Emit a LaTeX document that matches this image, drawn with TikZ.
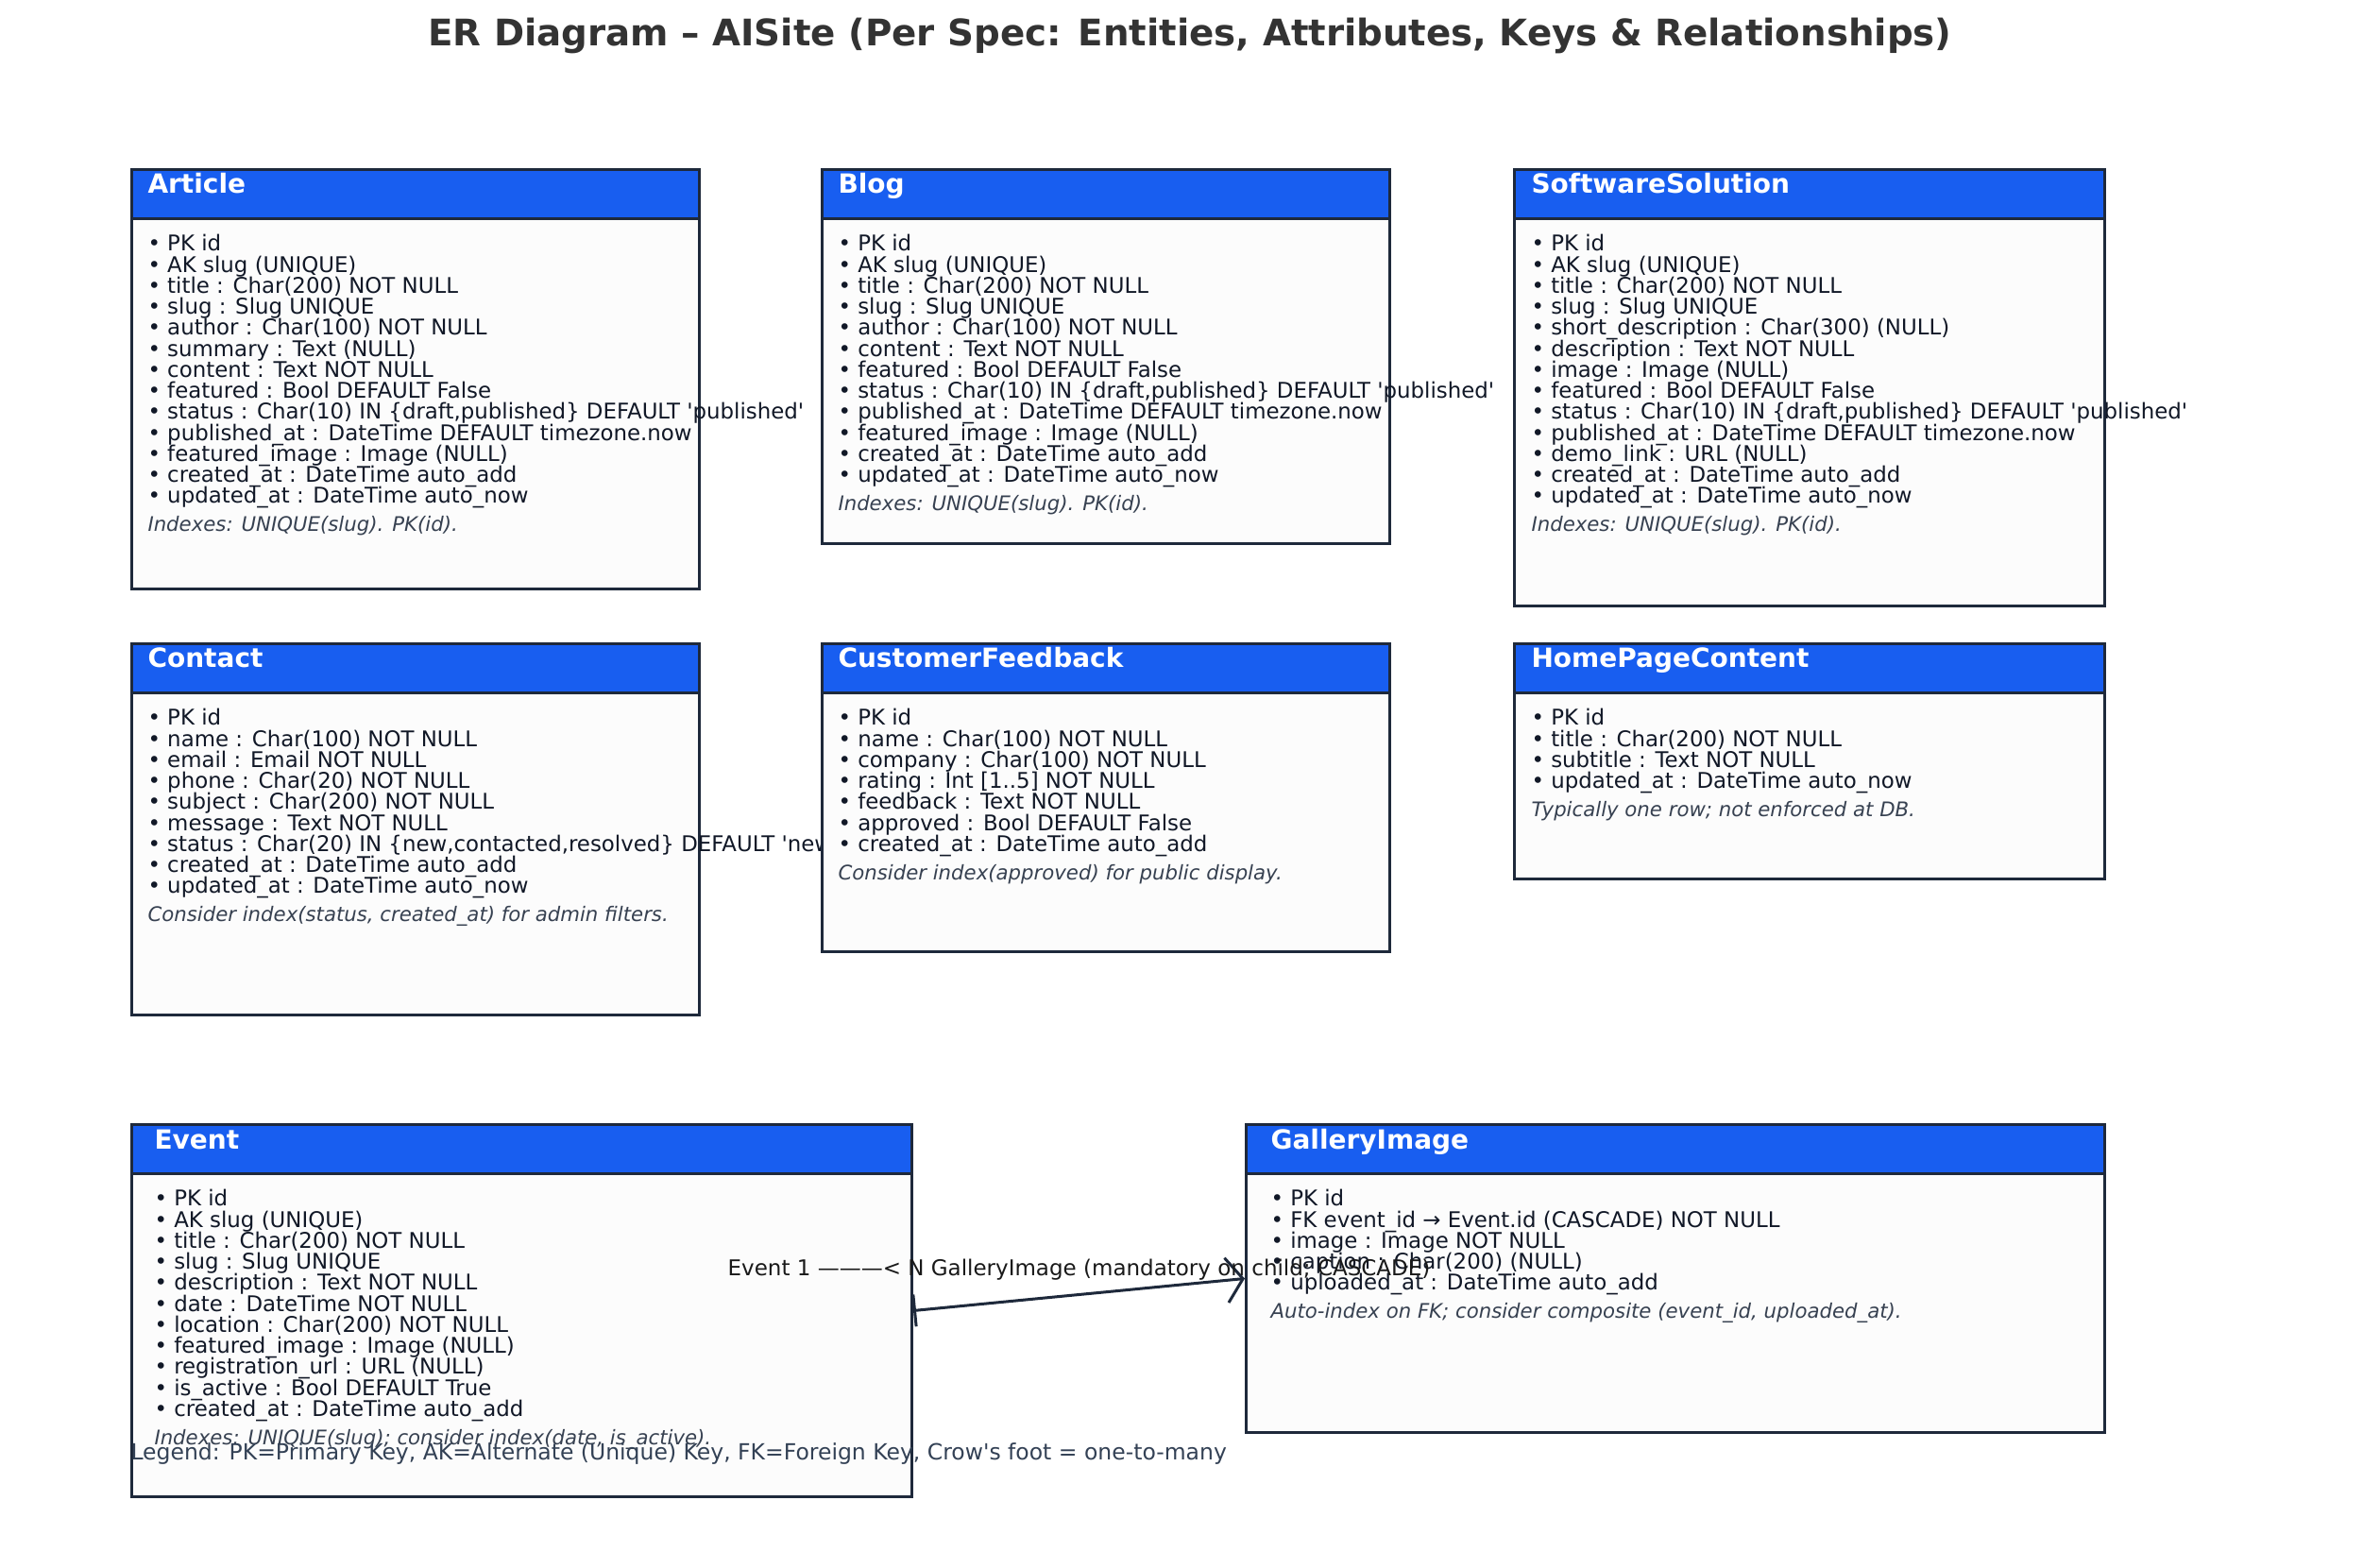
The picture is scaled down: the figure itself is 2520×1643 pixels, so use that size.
\documentclass[tikz,border=0pt]{standalone}
\usepackage{fontspec}
\setmainfont{DejaVu Sans}
\usetikzlibrary{arrows.meta, positioning}
\definecolor{headblue}{HTML}{185EF0}
\definecolor{edge}{HTML}{1E293B}
\definecolor{paper}{HTML}{FCFCFC}
\definecolor{ink}{HTML}{111827}
\definecolor{muted}{HTML}{374151}
\definecolor{heading}{HTML}{333333}
\definecolor{legendc}{HTML}{334155}
\newcommand{\pxu}{0.4pt}
\newcommand{\sq}{\textquotesingle}
\tikzset{
  entbody/.style={draw=edge, fill=paper, line width=1.2pt, inner sep=0pt, anchor=north west},
  enthead/.style={draw=edge, fill=headblue, line width=1.2pt, inner sep=0pt, anchor=north west, minimum height=52*\pxu},
  enttitle/.style={font=\fontsize{11.2}{13}\selectfont\bfseries, text=white, anchor=base west, inner sep=0pt},
  attrs/.style={font={\fontsize{9.15}{8.9}\selectfont\lineskiplimit=-10pt}, text=ink, align=left, anchor=north west, inner sep=0pt},
  idxnote/.style={font=\fontsize{8.5}{9}\selectfont\itshape, text=muted, inner sep=0pt, below=3pt, anchor=north west},
  relline/.style={draw=edge, line width=1.2pt, {Bar[width=13.6pt]}-{Straight Barb[length=7pt, width=19pt]}},
  rellabel/.style={font=\fontsize{9.2}{11}\selectfont, text=black!90, inner sep=0pt},
}
\begin{document}
\begin{tikzpicture}[x=0.4pt, y=-0.4pt]
  \fill[white] (0,0) rectangle (2520,1643);
  \useasboundingbox (0,0) rectangle (2520,1643);
  % Title
  \node[font=\fontsize{15.5}{18}\selectfont\bfseries, text=heading] (ttl) at (1260,38) {ER Diagram – AISite (Per Spec: Entities, Attributes, Keys \& Relationships)};
  % Article
  \node[entbody, minimum width=601*\pxu, minimum height=444*\pxu] (art) at (138,178) {};
  \node[enthead, minimum width=601*\pxu] (arthead) at (138,178) {};
  \node[enttitle] at (156,205) {Article};
  \node[attrs] (artattr) at (156,248) {• PK id\\ • AK slug (UNIQUE)\\ • title : Char(200) NOT NULL\\ • slug : Slug UNIQUE\\ • author : Char(100) NOT NULL\\ • summary : Text (NULL)\\ • content : Text NOT NULL\\ • featured : Bool DEFAULT False\\ • status : Char(10) IN \{draft,published\} DEFAULT \sq published\sq\\ • published\_at : DateTime DEFAULT timezone.now\\ • featured\_image : Image (NULL)\\ • created\_at : DateTime auto\_add\\ • updated\_at : DateTime auto\_now};
  \node[idxnote] at (artattr.south west) {Indexes: UNIQUE(slug). PK(id).};
  % Blog
  \node[entbody, minimum width=601*\pxu, minimum height=396*\pxu] (blog) at (869,178) {};
  \node[enthead, minimum width=601*\pxu] (bloghead) at (869,178) {};
  \node[enttitle] at (887,205) {Blog};
  \node[attrs] (blogattr) at (887,248) {• PK id\\ • AK slug (UNIQUE)\\ • title : Char(200) NOT NULL\\ • slug : Slug UNIQUE\\ • author : Char(100) NOT NULL\\ • content : Text NOT NULL\\ • featured : Bool DEFAULT False\\ • status : Char(10) IN \{draft,published\} DEFAULT \sq published\sq\\ • published\_at : DateTime DEFAULT timezone.now\\ • featured\_image : Image (NULL)\\ • created\_at : DateTime auto\_add\\ • updated\_at : DateTime auto\_now};
  \node[idxnote] at (blogattr.south west) {Indexes: UNIQUE(slug). PK(id).};
  % SoftwareSolution
  \node[entbody, minimum width=625*\pxu, minimum height=462*\pxu] (soft) at (1602,178) {};
  \node[enthead, minimum width=625*\pxu] (softhead) at (1602,178) {};
  \node[enttitle] at (1621,205) {SoftwareSolution};
  \node[attrs] (softattr) at (1621,248) {• PK id\\ • AK slug (UNIQUE)\\ • title : Char(200) NOT NULL\\ • slug : Slug UNIQUE\\ • short\_description : Char(300) (NULL)\\ • description : Text NOT NULL\\ • image : Image (NULL)\\ • featured : Bool DEFAULT False\\ • status : Char(10) IN \{draft,published\} DEFAULT \sq published\sq\\ • published\_at : DateTime DEFAULT timezone.now\\ • demo\_link : URL (NULL)\\ • created\_at : DateTime auto\_add\\ • updated\_at : DateTime auto\_now};
  \node[idxnote] at (softattr.south west) {Indexes: UNIQUE(slug). PK(id).};
  % Contact
  \node[entbody, minimum width=601*\pxu, minimum height=393*\pxu] (cont) at (138,680) {};
  \node[enthead, minimum width=601*\pxu] (conthead) at (138,680) {};
  \node[enttitle] at (156,707) {Contact};
  \node[attrs] (contattr) at (156,750) {• PK id\\ • name : Char(100) NOT NULL\\ • email : Email NOT NULL\\ • phone : Char(20) NOT NULL\\ • subject : Char(200) NOT NULL\\ • message : Text NOT NULL\\ • status : Char(20) IN \{new,contacted,resolved\} DEFAULT \sq new\sq\\ • created\_at : DateTime auto\_add\\ • updated\_at : DateTime auto\_now};
  \node[idxnote] at (contattr.south west) {Consider index(status, created\_at) for admin filters.};
  % CustomerFeedback
  \node[entbody, minimum width=601*\pxu, minimum height=326*\pxu] (feed) at (869,680) {};
  \node[enthead, minimum width=601*\pxu] (feedhead) at (869,680) {};
  \node[enttitle] at (887,707) {CustomerFeedback};
  \node[attrs] (feedattr) at (887,750) {• PK id\\ • name : Char(100) NOT NULL\\ • company : Char(100) NOT NULL\\ • rating : Int [1..5] NOT NULL\\ • feedback : Text NOT NULL\\ • approved : Bool DEFAULT False\\ • created\_at : DateTime auto\_add};
  \node[idxnote] at (feedattr.south west) {Consider index(approved) for public display.};
  % HomePageContent
  \node[entbody, minimum width=625*\pxu, minimum height=249*\pxu] (home) at (1602,680) {};
  \node[enthead, minimum width=625*\pxu] (homehead) at (1602,680) {};
  \node[enttitle] at (1621,707) {HomePageContent};
  \node[attrs] (homeattr) at (1621,750) {• PK id\\ • title : Char(200) NOT NULL\\ • subtitle : Text NOT NULL\\ • updated\_at : DateTime auto\_now};
  \node[idxnote] at (homeattr.south west) {Typically one row; not enforced at DB.};
  % Event
  \node[entbody, minimum width=826*\pxu, minimum height=394*\pxu] (evt) at (138,1189) {};
  \node[enthead, minimum width=826*\pxu] (evthead) at (138,1189) {};
  \node[enttitle] at (163,1216) {Event};
  \node[attrs] (evtattr) at (163,1259) {• PK id\\ • AK slug (UNIQUE)\\ • title : Char(200) NOT NULL\\ • slug : Slug UNIQUE\\ • description : Text NOT NULL\\ • date : DateTime NOT NULL\\ • location : Char(200) NOT NULL\\ • featured\_image : Image (NULL)\\ • registration\_url : URL (NULL)\\ • is\_active : Bool DEFAULT True\\ • created\_at : DateTime auto\_add};
  \node[idxnote] at (evtattr.south west) {Indexes: UNIQUE(slug); consider index(date, is\_active).};
  % GalleryImage
  \node[entbody, minimum width=909*\pxu, minimum height=326*\pxu] (gal) at (1318,1189) {};
  \node[enthead, minimum width=909*\pxu] (galhead) at (1318,1189) {};
  \node[enttitle] at (1345,1216) {GalleryImage};
  \node[attrs] (galattr) at (1345,1259) {• PK id\\ • FK event\_id → Event.id (CASCADE) NOT NULL\\ • image : Image NOT NULL\\ • caption : Char(200) (NULL)\\ • uploaded\_at : DateTime auto\_add};
  \node[idxnote] at (galattr.south west) {Auto-index on FK; consider composite (event\_id, uploaded\_at).};
  % Relationship
  \draw[relline] (evt.east) -- node[rellabel, above=5.6pt] (rel) {Event 1 ———< N GalleryImage (mandatory on child; CASCADE)} (gal.west);
  % Legend
  \node[font=\fontsize{9.4}{11}\selectfont, text=legendc, anchor=base west, inner sep=0pt] (legend) at (138,1545) {Legend: PK=Primary Key, AK=Alternate (Unique) Key, FK=Foreign Key, Crow\sq s foot = one-to-many};
\end{tikzpicture}
\end{document}
